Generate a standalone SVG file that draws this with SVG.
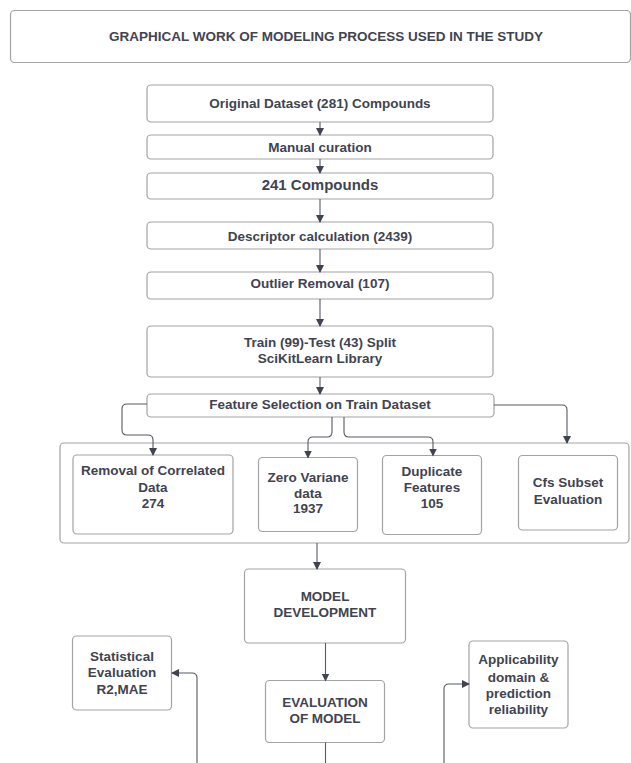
<svg xmlns="http://www.w3.org/2000/svg" width="631" height="763" viewBox="0 0 631 763">
<style>
.box{fill:#ffffff;stroke:#a3a3a3;stroke-width:1.2}
.t{font-family:"Liberation Sans",Arial,sans-serif;font-weight:bold;font-size:13.5px;fill:#3f4450;text-anchor:middle}
.big{font-size:15px}
.c{fill:none;stroke:#555a63;stroke-width:1.1}
</style>
<defs>
<marker id="ah" markerUnits="userSpaceOnUse" markerWidth="8" markerHeight="9" refX="7" refY="4" orient="auto">
<path d="M0,0 L8,4 L0,8 Z" fill="#3f4450"/>
</marker>
</defs>
<rect width="631" height="763" fill="#ffffff"/>
<g id="title"><rect class="box" x="10.5" y="10.5" width="620" height="52" rx="4"/><text class="t" x="326" y="40.5">GRAPHICAL WORK OF MODELING PROCESS USED IN THE STUDY</text></g>
<g id="original"><rect class="box" x="147" y="85" width="346" height="37" rx="4"/><text class="t" x="320" y="107.5">Original Dataset (281) Compounds</text></g>
<g id="manual"><rect class="box" x="147" y="135" width="346" height="24" rx="4"/><text class="t" x="320" y="151.5">Manual curation</text></g>
<g id="c241"><rect class="box" x="147" y="173" width="346" height="26" rx="4"/><text class="t big" x="320" y="189.5">241 Compounds</text></g>
<g id="descriptor"><rect class="box" x="147" y="222" width="346" height="27" rx="4"/><text class="t" x="320" y="241">Descriptor calculation (2439)</text></g>
<g id="outlier"><rect class="box" x="147" y="272" width="346" height="27" rx="4"/><text class="t" x="320" y="288">Outlier Removal (107)</text></g>
<g id="split"><rect class="box" x="147" y="326" width="346" height="51" rx="4"/><text class="t" x="320" y="347">Train (99)-Test (43) Split</text><text class="t" x="320" y="363">SciKitLearn Library</text></g>
<g id="feature"><rect class="box" x="147" y="394" width="347" height="23" rx="4"/><text class="t" x="320" y="409">Feature Selection on Train Dataset</text></g>
<g id="container"><rect class="box" x="60" y="443" width="569" height="100" rx="4"/></g>
<g id="removal"><rect class="box" x="73" y="455" width="160" height="79" rx="4"/><text class="t" x="153" y="475">Removal of Correlated</text><text class="t" x="153" y="491.5">Data</text><text class="t" x="153" y="508">274</text></g>
<g id="zero"><rect class="box" x="258.5" y="457.5" width="99" height="74" rx="4"/><text class="t" x="308" y="481.5">Zero Variane</text><text class="t" x="308" y="497.5">data</text><text class="t" x="308" y="513">1937</text></g>
<g id="duplicate"><rect class="box" x="382.5" y="455.5" width="99" height="79" rx="4"/><text class="t" x="432" y="475.5">Duplicate</text><text class="t" x="432" y="491.5">Features</text><text class="t" x="432" y="508">105</text></g>
<g id="cfs"><rect class="box" x="518.5" y="455.5" width="99" height="74.5" rx="4"/><text class="t" x="568" y="486.5">Cfs Subset</text><text class="t" x="568" y="504">Evaluation</text></g>
<g id="model"><rect class="box" x="244.5" y="569" width="161" height="74" rx="4"/><text class="t" x="325" y="601">MODEL</text><text class="t" x="325" y="616.5">DEVELOPMENT</text></g>
<g id="evaluation"><rect class="box" x="265.5" y="680.5" width="119" height="62" rx="4"/><text class="t" x="325" y="707">EVALUATION</text><text class="t" x="325" y="723">OF MODEL</text></g>
<g id="statistical"><rect class="box" x="72.5" y="636" width="99" height="74" rx="4"/><text class="t" x="122" y="661">Statistical</text><text class="t" x="122" y="677">Evaluation</text><text class="t" x="122" y="693.5">R2,MAE</text></g>
<g id="applicability"><rect class="box" x="469" y="641" width="99" height="87" rx="4"/><text class="t" x="518.5" y="664">Applicability</text><text class="t" x="518.5" y="681.5">domain &amp;</text><text class="t" x="518.5" y="698">prediction</text><text class="t" x="518.5" y="714">reliability</text></g>
<g id="connectors">
<path class="c" d="M320,122 V135" marker-end="url(#ah)"/>
<path class="c" d="M320,159 V173" marker-end="url(#ah)"/>
<path class="c" d="M320,199 V222" marker-end="url(#ah)"/>
<path class="c" d="M320,249 V272" marker-end="url(#ah)"/>
<path class="c" d="M320,299 V326" marker-end="url(#ah)"/>
<path class="c" d="M320,377 V394" marker-end="url(#ah)"/>
<path class="c" d="M147,404 H127 Q122,404 122,409 V430 Q122,435 127,435 H148 Q153,435 153,440 V455" marker-end="url(#ah)"/>
<path class="c" d="M332,417 V432 Q332,437 327,437 H313 Q308,437 308,442 V457.5" marker-end="url(#ah)"/>
<path class="c" d="M344,417 V432 Q344,437 349,437 H428 Q433,437 433,442 V455.5" marker-end="url(#ah)"/>
<path class="c" d="M494,405 H562 Q567,405 567,410 V443" marker-end="url(#ah)"/>
<path class="c" d="M317,543 V569" marker-end="url(#ah)"/>
<path class="c" d="M325.5,643 V680.5" marker-end="url(#ah)"/>
<path class="c" d="M325.5,742.5 V763"/>
<path class="c" d="M197,763 V678 Q197,673 192,673 H172" marker-end="url(#ah)"/>
<path class="c" d="M444,763 V689 Q444,684 449,684 H469" marker-end="url(#ah)"/>
</g>
</svg>
